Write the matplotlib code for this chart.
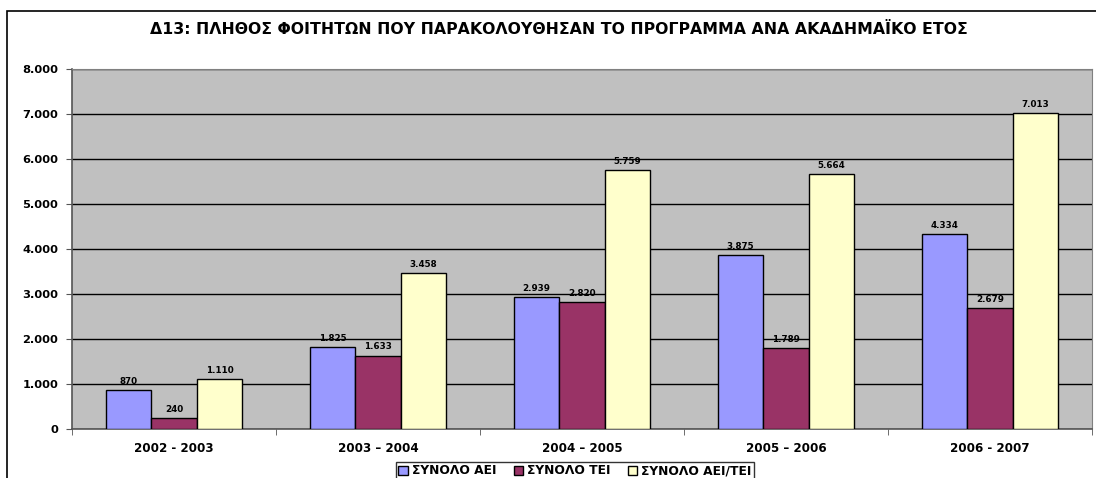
import numpy as np
from matplotlib import pyplot as plt
from matplotlib.patches import Rectangle
from matplotlib.ticker import FuncFormatter

years = ["2002 - 2003", "2003 \u2013 2004", "2004 \u2013 2005", "2005 \u2013 2006", "2006 - 2007"]
aei = [870, 1825, 2939, 3875, 4334]
tei = [240, 1633, 2820, 1789, 2679]
aei_tei = [1110, 3458, 5759, 5664, 7013]
series_names = ["ΣΥΝΟΛΟ ΑΕΙ", "ΣΥΝΟΛΟ ΤΕΙ", "ΣΥΝΟΛΟ ΑΕΙ/ΤΕΙ"]
title = "Δ13: ΠΛΗΘΟΣ ΦΟΙΤΗΤΩΝ ΠΟΥ ΠΑΡΑΚΟΛΟΥΘΗΣΑΝ ΤΟ ΠΡΟΓΡΑΜΜΑ ΑΝΑ ΑΚΑΔΗΜΑΪΚΟ ΕΤΟΣ"

colours = ["#9999FF", "#993366", "#FFFFCC"]

plt.rcParams['font.family'] = ['DejaVu Sans']


def dotted(v):
    return "{:,.0f}".format(v).replace(",", ".")


fig = plt.figure(figsize=(10.96, 4.78), dpi=100)
fig.patches.append(Rectangle((7 / 1096, -0.1), 1.2, (478 - 11) / 478 + 0.1,
                             transform=fig.transFigure, fill=False,
                             edgecolor="black", linewidth=1.2))
ax = fig.add_axes([72 / 1096, 49 / 478, 1020 / 1096, 360 / 478])
ax.set_facecolor("#C0C0C0")

x = np.arange(len(years))
w = 0.223
for i, vals in enumerate([aei, tei, aei_tei]):
    pos = x + (i - 1) * w
    ax.bar(pos, vals, w, color=colours[i], edgecolor="black", linewidth=1.0,
           label=series_names[i], zorder=3)
    for px, v in zip(pos, vals):
        ax.text(px, v + 90, dotted(v), ha="center", va="bottom",
                fontsize=6.3, fontweight="bold", zorder=4)

ax.set_xlim(-0.5, len(years) - 0.5)
ax.set_ylim(0, 8000)
ax.set_yticks(range(0, 8001, 1000))
ax.yaxis.set_major_formatter(FuncFormatter(lambda v, p: dotted(v)))
ax.grid(axis="y", color="black", linewidth=1.0, zorder=1)
ax.set_xticks(x)
ax.set_xticklabels(years, fontsize=8.6, fontweight="bold")
ax.set_xticks(np.arange(len(years) + 1) - 0.5, minor=True)
ax.tick_params(axis="x", which="major", length=0, pad=9)
ax.tick_params(axis="x", which="minor", length=4, color="#555555")
ax.tick_params(axis="y", length=4, labelsize=8.2, color="#555555", pad=6)
for lab in ax.get_yticklabels():
    lab.set_fontweight("bold")
for side in ["top", "right"]:
    ax.spines[side].set_color("#808080")
ax.spines["left"].set_color("#555555")
ax.spines["bottom"].set_color("#555555")
ax.spines["left"].set_linewidth(1.2)
ax.spines["bottom"].set_linewidth(1.2)

fig.text(559 / 1096, (478 - 30) / 478, title, ha="center", va="center",
         fontsize=11.3, fontweight="bold")

leg = fig.legend(loc="upper left", bbox_to_anchor=(396 / 1096, (478 - 462) / 478),
                 ncol=3, prop={"weight": "bold", "size": 8.8},
                 frameon=True, fancybox=False, handlelength=0.8, handleheight=0.8,
                 handletextpad=0.3, columnspacing=1.4, borderpad=0.2,
                 borderaxespad=0)
leg.get_frame().set_edgecolor("black")
leg.get_frame().set_linewidth(1.0)

fig.savefig("out.png", dpi=100)
